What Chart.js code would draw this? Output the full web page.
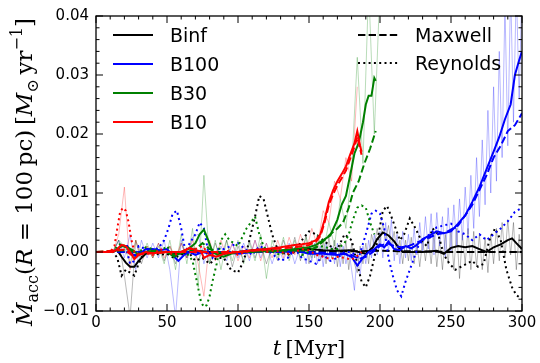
<!DOCTYPE html>
<html><head><meta charset="utf-8">
<script src="https://cdn.jsdelivr.net/npm/chart.js@4/dist/chart.umd.min.js"></script>
<style>html,body{margin:0;padding:0;background:#fff}</style>
</head><body>
<canvas id="c" width="540" height="363"></canvas>
<script>
// ---------------- DATA ----------------
const modelNames = ['Binf', 'B100', 'B30', 'B10'];
const termNames = ['Maxwell', 'Reynolds'];
const xTickValues = [0, 50, 100, 150, 200, 250, 300];
const yTickValues = [-0.01, 0, 0.01, 0.02, 0.03, 0.04];

// Binf
const tBinf = [0,10,15,18,21,24,27,30,35,40,50,60,70,80,90,100,110,120,130,140,150,160,170,180,185,190,195,198,202,206,210,213,216,220,230,240,245,250,255,260,265,270,275,280,285,290,293,296,300];
const binfTotal = [0,0,0.0003,-0.0008,-0.0018,-0.0025,-0.0025,-0.0015,-0.0003,0,0,-0.0003,0.0002,0,-0.0003,0,0.0003,0.0005,0,0.0003,0.0005,0.0003,0.0002,0.0003,0,-0.0003,0.0008,0.0022,0.0033,0.0028,0.0018,0.0008,0,0,0,0.0002,-0.0003,0.0007,0.001,0.0008,0.001,0.0005,0,0.0008,0.0013,0.002,0.0023,0.0015,0.0005];
const tBinfM = [0,50,100,150,200,250,300];
const binfMaxwell = [0,0,0,0,0.0002,0,0];
const tBinfR = [0,12,15,18,21,24,27,30,33,36,40,45,50,55,60,65,70,75,80,85,90,95,100,103,106,109,112,115,118,121,124,127,130,135,140,145,150,155,160,165,170,175,180,184,187,190,193,196,199,202,205,208,211,214,217,221,225,229,233,237,241,245,249,253,257,261,265,269,273,277,281,285,289,293,296,300];
const binfReynolds = [0,0,-0.001,-0.004,-0.003,-0.0035,-0.004,-0.002,-0.0005,0.0005,0,-0.0005,-0.0003,-0.001,-0.0005,0,-0.0015,-0.001,-0.002,-0.001,-0.001,-0.003,-0.0035,-0.002,0,0.003,0.006,0.0095,0.009,0.006,0.003,0.001,0,-0.0005,0,0.002,0.0035,0.003,0.002,0.001,0.0005,0.003,0.002,-0.002,-0.005,-0.006,-0.004,-0.001,0.003,0.007,0.0078,0.006,0.004,0.002,0.003,0.0057,0.004,0.002,0.001,0.004,0.003,-0.0005,-0.002,-0.003,-0.0025,-0.002,-0.0015,-0.0025,-0.002,0.002,0.004,0.002,-0.003,-0.006,-0.0073,-0.008];

// B100
const tB100 = [0,12,15,18,22,26,30,35,40,45,50,55,58,62,66,70,75,80,85,90,100,110,120,130,140,150,160,170,175,180,184,188,192,196,200,203,206,210,214,218,222,226,230,235,240,245,250,255,260,265,270,275,280,284,288,292,295,298,300];
const b100Total = [0,0,0.0005,0.001,0.001,-0.0005,-0.0005,0.0005,0.0005,0.0003,0.0005,-0.0008,-0.0015,-0.0005,0,-0.0005,0,-0.0003,0,0,-0.0003,0,0.0002,0,0.0003,-0.0003,-0.0003,-0.0005,-0.0003,-0.0008,-0.0023,-0.001,0,0.0005,0.0013,0.0008,0.0018,0.0005,0.0003,0.001,0.0006,0.0012,0.0022,0.0028,0.0035,0.0032,0.0035,0.0048,0.0062,0.0085,0.011,0.014,0.017,0.0195,0.0225,0.025,0.030,0.0325,0.034];
const tB100M = [0,50,100,150,175,180,185,190,195,200,205,210,215,220,225,230,235,240,245,250,255,260,265,270,275,280,285,290,295,300];
const b100Maxwell = [0,0,0,0,-0.0003,-0.0005,-0.0012,-0.0008,0,0.001,0.0015,0.001,0.0008,0.001,0.0015,0.002,0.0025,0.003,0.0032,0.0038,0.0045,0.0062,0.008,0.0105,0.013,0.016,0.018,0.0205,0.0215,0.0235];
const tB100R = [0,12,15,18,21,24,27,30,35,40,45,48,51,54,57,60,63,66,70,73,76,79,82,85,90,95,100,105,110,115,120,125,130,135,140,145,150,155,160,165,170,175,180,185,190,194,197,200,203,206,209,212,215,218,221,224,227,230,235,240,245,250,255,260,265,270,275,280,285,290,295,300];
const b100Reynolds = [0,0,0.0005,0.0012,0.0008,-0.002,-0.0015,0.001,0.0005,0,0.001,0.002,0.004,0.0065,0.007,0.004,0,0.0015,0.003,0.005,0.004,0,-0.001,0.0005,0.0005,0.001,0.0015,0.0005,-0.0005,0.001,0.0005,-0.0005,-0.0015,-0.001,0.0005,-0.001,-0.0015,-0.002,-0.0005,-0.0015,-0.001,0,0,-0.001,0.003,0.0065,0.007,0.0065,0.004,-0.001,-0.004,-0.0065,-0.0075,-0.005,-0.003,-0.001,0.001,0.002,0.003,0.0042,0.0045,0.0048,0.0035,0.003,0.002,0.003,0.002,0.003,0.004,0.0052,0.0068,0.0075];

// B30
const tB30 = [0,12,15,18,22,26,30,35,40,45,50,55,60,65,70,73,76,79,82,86,90,95,100,110,120,130,140,150,155,160,165,170,173,176,179,182,185,188,190,192,194,196,197];
const b30Total = [0,0,0.0005,0.001,0.0008,0.0003,-0.0005,0,0.0002,0,0,-0.0008,0,0.0005,0.0015,0.003,0.0038,0.002,0,-0.0005,-0.0008,-0.0003,0,0,0.0002,0.0003,0.0005,0.0008,0.0012,0.002,0.0028,0.0055,0.008,0.0095,0.013,0.0167,0.0185,0.022,0.025,0.0265,0.0265,0.0295,0.029];
const tB30M = [0,20,25,30,50,55,70,75,80,90,100,150,155,160,165,170,174,178,181,185,189,193,197];
const b30Maxwell = [0,0.0003,0.0002,-0.0003,0,-0.0005,0.0005,0.0015,0.0005,-0.0003,0,0.0003,0.0008,0.0018,0.003,0.004,0.005,0.0075,0.0101,0.012,0.015,0.0175,0.0205];
const tB30R = [0,12,15,18,21,24,27,30,35,40,45,50,55,60,65,68,71,74,76,78,80,82,85,88,91,94,97,100,103,106,109,112,115,118,121,125,130,135,140,145,150,155,160,165,170,175,178,181,184,187,190,193,196];
const b30Reynolds = [0,0,0.001,0.0015,0.0008,0,-0.001,0,0.0008,0.0005,0,0.001,-0.0008,0,-0.0005,-0.0015,-0.005,-0.0085,-0.0093,-0.009,-0.0075,-0.005,-0.002,0.002,0.003,0.002,0.0015,0.001,0.0025,0.004,0.005,0.006,0.003,0.001,0,0,-0.0005,0.0005,0.001,-0.0005,0,0.0008,0.001,0.0005,0.0005,0.0015,0.003,0.0055,0.0075,0.0079,0.0075,0.005,0.003];

// B10
const tB10 = [0,12,15,18,21,24,27,30,35,40,50,60,66,70,74,76,80,85,90,100,110,120,130,140,145,150,155,158,161,164,167,170,173,176,179,182,184,186,187];
const b10Total = [0,0,0.0005,0.0012,0.001,0,-0.0012,-0.0005,0,-0.0002,0,0,0.0007,0.0003,0.0001,-0.001,-0.0005,-0.0008,-0.0003,0,0.0003,0.0005,0.0008,0.0012,0.0013,0.0015,0.002,0.003,0.0055,0.0085,0.0105,0.012,0.0132,0.0145,0.0165,0.0184,0.0205,0.018,0.017];
const tB10M = [0,20,25,50,100,140,150,155,158,161,164,167,170,173,176,179,182,184,186,187];
const b10Maxwell = [0,0.0004,-0.0005,0,0,0.0008,0.0012,0.0018,0.0027,0.005,0.008,0.0098,0.0113,0.0125,0.0138,0.0158,0.0178,0.0195,0.0175,0.0165];
const tB10R = [0,10,13,15,17,19,21,23,25,27,30,35,40,45,50,55,60,65,70,75,80,85,90,95,100,105,110,115,120,125,130,135,140,145,150,155,160,165,170,175,180,185,187];
const b10Reynolds = [0,0,0.001,0.004,0.0068,0.0075,0.007,0.005,0.002,0,-0.0005,0,-0.0005,0.0005,0,-0.0005,0,0.0005,0.0005,0.001,-0.0005,-0.0002,0,0.0003,-0.0005,0,0.0002,0.0005,0,0.0003,0,-0.0003,0,0.0005,0.0003,-0.0005,-0.0008,-0.0012,-0.0008,-0.001,-0.0013,-0.0005,0];

// unsmoothed (raw) totals
const tRaw = [0,4,8,12,16,20,24,28,32,36,40,44,48,52,56,60,64,68,72,76,80,84,88,92,96,100,104,108,112,116,120,124,128,132,136,140,144,148,152,156,160,164,168,172,176,180,184,188,192,196,200];
const tRawFine = [0,4,8,12,16,20,24,28,32,36,40,44,48,52,56,60,64,68,72,76,80,84,88,92,96,100,104,108,112,116,120,124,128,132,136,140,144,148,
  150,152,154,156,158,160,162,164,166,168,170,172,174,176,178,180,182,184,186,188,190,192,194,196,198,200,202,204,206,208,210,212,214,216,218,220,222,224,226,228,230,232,234,236,238,240,242,244,246,248,250,252,254,256,258,260,262,264,266,268,270,272,274,276,278,280,282,284,286,288,290,292,294,296,298,300];
const binfRaw = [0,0,0,0,0.002,-0.004,-0.011,0.002,-0.002,0.001,-0.001,0.0015,-0.0015,0.001,-0.002,0.0015,-0.001,0.001,-0.0015,0.001,-0.002,0.0015,-0.001,0.002,-0.0025,0.001,-0.0015,0.002,-0.001,0.0015,-0.002,0.001,-0.0015,0.002,-0.001,0.0025,-0.0015,0.003,
  -0.002,0.002,-0.001,0.003,-0.0015,0.002,-0.002,0.0025,-0.001,0.002,-0.0025,0.0015,-0.002,0.002,-0.003,0.0015,-0.002,-0.0035,0.001,-0.002,0.0015,-0.002,0.003,0.001,0.004,0.0015,0.005,0.002,0.0045,0.001,0.0035,-0.0005,0.002,-0.002,0.002,-0.0015,0.0025,-0.002,0.0015,-0.0025,0.002,-0.0015,0.0025,-0.002,0.003,-0.0025,0.002,-0.003,0.003,-0.002,0.004,-0.003,0.004,-0.0045,0.003,-0.002,0.004,-0.003,0.0035,-0.0025,0.003,-0.003,0.0025,-0.0035,0.003,-0.002,0.004,-0.0015,0.005,-0.001,0.0055,-0.0005,0.005,-0.003,0.003,-0.002];
const b100Raw = [0,0,0,0,0.002,-0.001,0.003,-0.003,0.002,-0.001,0.0015,-0.001,0.002,-0.003,-0.011,0.002,-0.001,0.0025,0.003,-0.002,0.0015,-0.001,0.001,-0.0015,0.0015,-0.001,0.0015,-0.0015,0.002,-0.001,0.0015,-0.002,0.001,-0.0015,0.0015,-0.002,0.001,-0.002,
  0.001,-0.0015,0.0015,-0.002,0.001,-0.0025,0.0015,-0.0015,0.001,-0.002,0.0015,-0.0025,0.001,-0.002,0.0005,-0.003,-0.0065,0,-0.004,0.001,-0.002,0.002,-0.001,0.003,-0.0005,0.0035,-0.001,0.005,0,0.0055,-0.0015,0.003,-0.002,0.0035,-0.001,0.003,-0.0015,0.004,-0.0005,0.005,0,0.006,0.0005,0.0065,-0.0005,0.0067,0.001,0.006,-0.001,0.0075,0,0.008,0.001,0.009,0.002,0.011,0.003,0.013,0.004,0.016,0.006,0.019,0.008,0.024,0.01,0.028,0.012,0.034,0.016,0.042,0.018,0.045,0.022,0.045,0.026,0.045];
const b30Raw = [0,0,0,0,0.002,0.001,-0.002,0.002,-0.001,0.0015,-0.001,0.001,-0.002,0.002,-0.003,0.003,-0.002,0.004,-0.006,0.013,-0.002,0.002,-0.003,0.002,-0.0015,0.002,-0.002,0.0015,-0.0015,0.003,-0.0045,0.002,-0.001,0.0025,-0.0015,0.002,-0.001,0.0025,-0.001,0.003,0,0.005,0.001,0.009,0.004,0.014,0.033,0.015,0.045,0.02,0.045];
const b10Raw = [0,0,0,0,0.003,0.011,-0.003,0.002,-0.001,0.001,-0.001,0.0015,-0.001,0.001,-0.001,0.0015,-0.001,0.002,-0.002,-0.0075,0.002,-0.0015,0.002,-0.001,0.0015,-0.0015,0.001,-0.001,0.002,-0.0015,0.0015,-0.001,0.002,-0.001,0.0025,-0.0005,0.003,0,0.004,0.001,0.007,0.005,0.012,0.009,0.016,0.012,0.028];

// ---------------- STYLE ----------------
const colors = {Binf:'#000000', B100:'#0000ff', B30:'#008000', B10:'#ff0000'};
const rawColors = {Binf:'rgba(0,0,0,0.28)', B100:'rgba(0,0,255,0.28)', B30:'rgba(0,128,0,0.28)', B10:'rgba(255,0,0,0.28)'};
const DASH = [7.4, 3.2];
const DOT = [2, 3.3];

function pts(t, v) { return v.map((y, i) => ({x: t[i], y: y})); }

const layers = [];
function add(t, v, color, width, dash) {
  layers.push({data: pts(t, v), borderColor: color, borderWidth: width, borderDash: dash || [],
    pointRadius: 0, fill: false, tension: 0, clip: 0});
}
add(tRawFine, binfRaw, rawColors.Binf, 1);
add(tRawFine, b100Raw, rawColors.B100, 1);
add(tRaw, b30Raw, rawColors.B30, 1);
add(tRaw, b10Raw, rawColors.B10, 1);
add(tBinf, binfTotal, colors.Binf, 2);
add(tBinfM, binfMaxwell, colors.Binf, 2, DASH);
add(tBinfR, binfReynolds, colors.Binf, 2, DOT);
add(tB100, b100Total, colors.B100, 2);
add(tB100M, b100Maxwell, colors.B100, 2, DASH);
add(tB100R, b100Reynolds, colors.B100, 2, DOT);
add(tB30, b30Total, colors.B30, 2);
add(tB30M, b30Maxwell, colors.B30, 2, DASH);
add(tB30R, b30Reynolds, colors.B30, 2, DOT);
add(tB10, b10Total, colors.B10, 2);
add(tB10M, b10Maxwell, colors.B10, 2, DASH);
add(tB10R, b10Reynolds, colors.B10, 2, DOT);
layers.forEach((d, i) => { d.order = layers.length - i; });

function fmt(v) {
  const s = Math.abs(v).toFixed(2);
  return v < -1e-9 ? '\u2212' + s : s;
}

function drawRuns(ctx, runs, x, y, rotate) {
  let total = 0;
  runs.forEach(r => { ctx.font = r.font; r.w = ctx.measureText(r.t).width; total += r.w; });
  ctx.save();
  ctx.translate(x, y);
  if (rotate) ctx.rotate(-Math.PI / 2);
  ctx.fillStyle = '#000';
  ctx.textBaseline = 'alphabetic';
  ctx.textAlign = 'left';
  let cx = -total / 2;
  runs.forEach(r => { ctx.font = r.font; ctx.fillText(r.t, cx, r.dy || 0); cx += r.w; });
  ctx.restore();
}

const decor = {
  id: 'decor',
  afterDraw(chart) {
    const {ctx, chartArea: a, scales: {x, y}} = chart;
    ctx.save();
    ctx.strokeStyle = '#000';
    ctx.lineWidth = 1;
    function seg(x1, y1, x2, y2) { ctx.beginPath(); ctx.moveTo(x1, y1); ctx.lineTo(x2, y2); ctx.stroke(); }
    for (let k = 0; k <= 30; k++) {
      const p = x.getPixelForValue(k * 10);
      const L = (k % 5 === 0) ? 7 : 3.5;
      seg(p, a.bottom, p, a.bottom - L);
      seg(p, a.top, p, a.top + L);
    }
    for (let k = -5; k <= 20; k++) {
      const p = y.getPixelForValue(k * 0.002);
      const L = (k % 5 === 0) ? 7 : 3.5;
      seg(a.left, p, a.left + L, p);
      seg(a.right, p, a.right - L, p);
    }
    ctx.lineWidth = 1.3;
    ctx.strokeRect(a.left, a.top, a.right - a.left, a.bottom - a.top);

    const rows = [35, 64, 93, 122];
    ctx.font = '19px "DejaVu Sans"';
    ctx.textBaseline = 'alphabetic';
    ctx.fillStyle = '#000';
    modelNames.forEach((n, i) => {
      ctx.strokeStyle = colors[n]; ctx.lineWidth = 2; ctx.setLineDash([]);
      seg(113, rows[i], 153, rows[i]);
      ctx.fillText(n, 170, rows[i] + 7);
    });
    const rows2 = [35, 63];
    const dashes = [DASH, DOT];
    termNames.forEach((n, i) => {
      ctx.strokeStyle = '#000'; ctx.lineWidth = 2; ctx.setLineDash(dashes[i]);
      seg(358, rows2[i], 398, rows2[i]);
      ctx.setLineDash([]);
      ctx.fillText(n, 415, rows2[i] + 7);
    });
    ctx.restore();

    const serif = '"DejaVu Serif"';
    const F = 21;
    drawRuns(ctx, [
      {t: 't', font: 'italic ' + F + 'px ' + serif},
      {t: '\u2009[Myr]', font: F + 'px ' + serif}
    ], (a.left + a.right) / 2, 355, false);
    const G = 23;
    const rm = G + 'px ' + serif, it = 'italic ' + G + 'px ' + serif;
    const sm = Math.round(G * 0.7) + 'px ' + serif;
    drawRuns(ctx, [
      {t: '\u1E40', font: it},
      {t: 'acc', font: sm, dy: 5.5},
      {t: '(', font: rm},
      {t: 'R', font: it},
      {t: ' = 100\u2009pc)\u2009[', font: rm},
      {t: 'M', font: it},
      {t: '\u2299', font: sm, dy: 5.5},
      {t: '\u2009yr', font: rm},
      {t: '\u22121', font: sm, dy: -10},
      {t: ']', font: rm}
    ], 32, 172, true);
  }
};

new Chart(document.getElementById('c').getContext('2d'), {
  type: 'line',
  data: {datasets: layers},
  options: {
    responsive: false, animation: false, devicePixelRatio: 1,
    layout: {padding: {top: 10, right: 18, left: 0, bottom: 0}},
    plugins: {legend: {display: false}, tooltip: {enabled: false}},
    elements: {point: {radius: 0}},
    scales: {
      x: {type: 'linear', min: 0, max: 300,
        afterBuildTicks: s => { s.ticks = xTickValues.map(v => ({value: v})); },
        ticks: {font: {family: 'DejaVu Sans', size: 15}, color: '#000', padding: 3, maxRotation: 0, autoSkip: false},
        grid: {display: false, drawTicks: false}, border: {display: false},
        afterFit: s => { s.height = 52; }},
      y: {type: 'linear', min: -0.01, max: 0.04,
        afterBuildTicks: s => { s.ticks = yTickValues.map(v => ({value: v})); },
        ticks: {font: {family: 'DejaVu Sans', size: 15}, color: '#000', padding: 7, callback: v => fmt(v)},
        grid: {display: false, drawTicks: false}, border: {display: false},
        afterFit: s => { s.width = 96; }}
    }
  },
  plugins: [decor]
});
</script>
</body></html>
